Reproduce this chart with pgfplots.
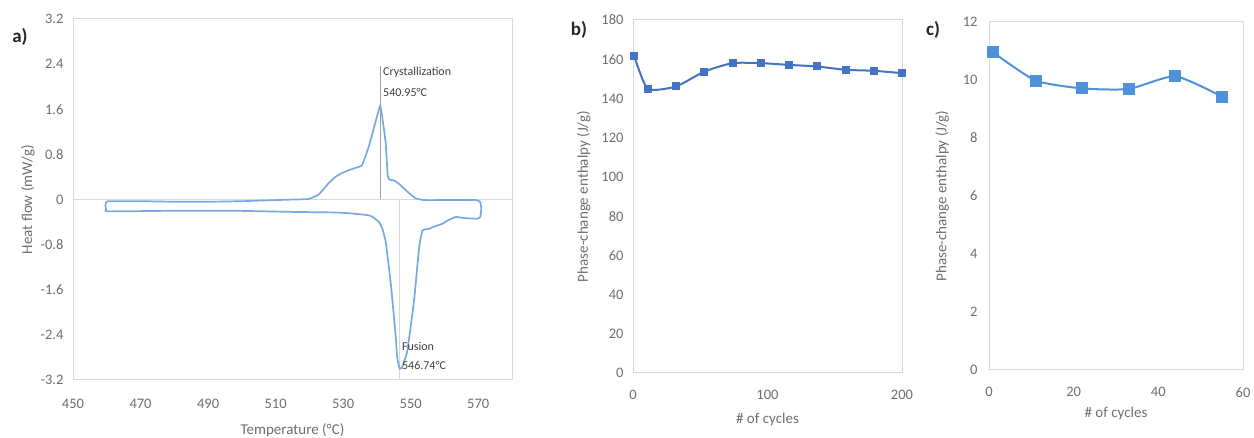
\documentclass[border=0pt]{standalone}
\usepackage{pgfplots}
\pgfplotsset{compat=1.18}
\usepackage{fontspec}
\setmainfont{Carlito}
\definecolor{gridc}{RGB}{217,217,217}
\definecolor{tickc}{RGB}{110,110,110}
\definecolor{lineA}{RGB}{120,170,225}
\definecolor{lineB}{RGB}{68,114,196}
\definecolor{lineC}{RGB}{80,145,220}
\definecolor{annc}{RGB}{160,160,160}
\pgfplotsset{
  panel/.style={
    scale only axis,
    axis line style={gridc, line width=1pt},
    tick style={draw=none},
    major tick length=0pt,
    ticklabel style={text=tickc, font=\fontsize{14.5}{16}\selectfont},
    label style={text=tickc, font=\fontsize{15}{17}\selectfont},
    /pgf/number format/assume math mode=true,
    clip=false,
  }
}
\begin{document}
\begin{tikzpicture}[x=1pt,y=1pt]
\useasboundingbox (0,0) rectangle (1254,438);
% ---------- panel a ----------
\begin{axis}[panel,
  at={(73pt,58pt)}, anchor=south west,
  width=439pt, height=361pt,
  xmin=450, xmax=580, ymin=-3.2, ymax=3.2,
  xtick={450,470,...,570},
  ytick={-3.2,-2.4,-1.6,-0.8,0,0.8,1.6,2.4,3.2},
  yticklabels={-3.2,-2.4,-1.6,-0.8,0,0.8,1.6,2.4,3.2},
  xticklabel style={yshift=-16pt},
  yticklabel style={xshift=-6pt},
  xlabel={Temperature (°C)},
  ylabel={Heat flow (mW/g)},
  xlabel style={yshift=-8pt},
  ylabel style={yshift=-1pt},
]
\draw[gridc, line width=1pt] (axis cs:450,0) -- (axis cs:580,0);
\draw[annc, line width=1.2pt] (axis cs:540.95,0) -- (axis cs:540.95,2.36);
\draw[gridc, line width=1pt] (axis cs:546.74,0) -- (axis cs:546.74,-3.2);
\addplot[lineA, line width=1.7pt, smooth, tension=0.25] coordinates {
(460.3,-0.03) (470,-0.03) (480,-0.04) (490,-0.04) (500,-0.03) (510,-0.01)
(516,0) (519.8,0.01) (522.8,0.09) (525.7,0.29) (527.7,0.40) (529.7,0.47)
(531.7,0.52) (533.6,0.56) (535.6,0.61) (537.6,0.94) (539.6,1.38) (540.95,1.66)
(541.6,1.45) (542.6,1.0) (543.2,0.42) (543.8,0.35) (545.0,0.34) (546.5,0.28)
(549.0,0.14) (551.5,0.02) (554,-0.01) (560,-0.01) (569.3,-0.01)
(570.6,-0.05) (570.9,-0.17) (570.6,-0.31) (569.6,-0.34)
(566,-0.33) (563.4,-0.31) (561,-0.37) (559.4,-0.43) (557,-0.48) (555.4,-0.52)
(553.5,-0.55) (552.5,-0.85) (551.0,-1.79) (549.0,-2.68) (547.5,-2.97) (546.74,-3.0)
(546.0,-2.8) (545.5,-2.38) (544.1,-1.49) (542.6,-0.75) (541.5,-0.5) (540.6,-0.4)
(539,-0.32) (537.6,-0.28) (533,-0.25) (527.7,-0.23) (515,-0.22) (498,-0.2)
(480,-0.2) (460.4,-0.21) (459.8,-0.17) (459.6,-0.1) (459.8,-0.05) (460.3,-0.03)
};
\node[anchor=west, text=black!75, font=\fontsize{12}{14}\selectfont, inner sep=0pt] at (axis cs:541.8,2.25) {Crystallization};
\node[anchor=west, text=black!75, font=\fontsize{12}{14}\selectfont, inner sep=0pt] at (axis cs:541.8,1.9) {540.95°C};
\node[anchor=west, text=black!75, font=\fontsize{12}{14}\selectfont, inner sep=0pt] at (axis cs:547.4,-2.6) {Fusion};
\node[anchor=west, text=black!75, font=\fontsize{12}{14}\selectfont, inner sep=0pt] at (axis cs:547.4,-2.95) {546.74°C};
\end{axis}
\node[font=\fontsize{19}{21}\selectfont\bfseries, text=black!85] at (20,401) {a)};
% ---------- panel b ----------
\begin{axis}[panel,
  at={(633pt,65pt)}, anchor=south west,
  width=269pt, height=353pt,
  xmin=0, xmax=200, ymin=0, ymax=180,
  xtick={0,100,200}, ytick={0,20,...,180},
  xticklabel style={yshift=-14pt},
  yticklabel style={xshift=-6pt},
  xlabel={\# of cycles},
  ylabel={Phase-change enthalpy (J/g)},
  xlabel style={yshift=-6pt},
  ylabel style={yshift=4pt},
]
\draw[gridc, line width=1pt] (rel axis cs:0,0) rectangle (rel axis cs:1,1);
\addplot[lineB, line width=2pt, smooth, tension=0.35, mark=square*, mark size=3pt, mark options={solid, fill=lineB, draw=lineB}] coordinates {
(1,161.4) (11,144.9) (32,146.1) (53,153.7) (74,158.0) (95,158.0)
(116,157.1) (137,156.3) (158,154.6) (179,154.1) (200,152.9)
};
\end{axis}
\node[font=\fontsize{19}{21}\selectfont\bfseries, text=black!85] at (579,408) {b)};
% ---------- panel c ----------
\begin{axis}[panel,
  at={(989pt,68pt)}, anchor=south west,
  width=254pt, height=348pt,
  xmin=0, xmax=60, ymin=0, ymax=12,
  xtick={0,20,...,60}, ytick={0,2,...,12},
  xticklabel style={yshift=-14pt},
  yticklabel style={xshift=-8pt},
  xlabel={\# of cycles},
  ylabel={Phase-change enthalpy (J/g)},
  xlabel style={yshift=-3pt},
  ylabel style={yshift=7pt},
]
\draw[gridc, line width=1pt] (rel axis cs:0,0) rectangle (rel axis cs:1,1);
\addplot[lineC, line width=2pt, smooth, tension=0.35, mark=square*, mark size=5pt, mark options={solid, fill=lineC, draw=lineC}] coordinates {
(1,10.95) (11,9.98) (22,9.71) (33,9.69) (44,10.13) (55,9.43)
};
\end{axis}
\node[font=\fontsize{19}{21}\selectfont\bfseries, text=black!85] at (933,408) {c)};
\end{tikzpicture}
\end{document}
